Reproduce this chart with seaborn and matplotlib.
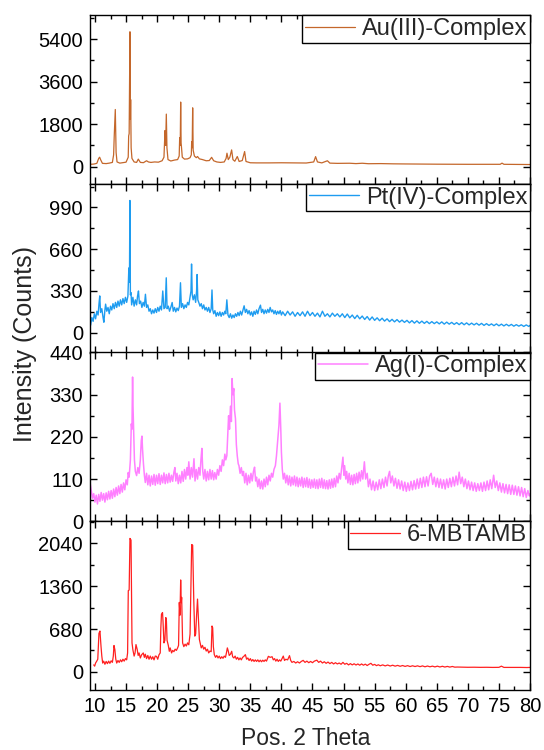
import matplotlib
matplotlib.use("Agg")
import matplotlib.pyplot as plt
import seaborn as sns
from matplotlib.ticker import MultipleLocator

# ---------------- data (2-theta, counts) ----------------
series_names = ["Au(III)-Complex", "Pt(IV)-Complex", "Ag(I)-Complex", "6-MBTAMB"]
series_colors = ["#C4672B", "#1E9CF0", "#FF80FF", "#FF2020"]

au_xrd = [
    (9.3, 100), (9.8, 110), (10.3, 140), (10.6, 350), (10.75, 400), (10.9, 300), (11.2, 140),
    (11.8, 130), (12.3, 150), (12.8, 180), (13.0, 500), (13.1, 1300), (13.27, 2420), (13.4, 600),
    (13.55, 200), (14.0, 150), (14.5, 170), (15.0, 190), (15.35, 400), (15.42, 1300), (15.5, 1400),
    (15.63, 5710), (15.7, 2000), (15.74, 2840), (15.82, 800), (15.95, 350), (16.3, 200), (16.7, 180),
    (16.97, 320), (17.3, 180), (17.8, 170), (18.3, 250), (18.6, 200), (19.0, 180), (19.6, 200),
    (20.2, 190), (20.8, 250), (21.1, 400), (21.27, 1530), (21.37, 900), (21.48, 2225), (21.58, 800),
    (21.75, 300), (22.2, 240), (22.8, 280), (23.3, 300), (23.55, 450), (23.63, 1230), (23.72, 900),
    (23.79, 2735), (23.86, 1000), (23.92, 830), (24.05, 400), (24.4, 320), (24.9, 330), (25.3, 380),
    (25.5, 500), (25.56, 1060), (25.64, 800), (25.72, 2490), (25.8, 700), (26.0, 450), (26.3, 380),
    (26.5, 430), (26.8, 330), (27.3, 300), (27.9, 250), (28.4, 260), (28.77, 395), (29.1, 250),
    (29.6, 200), (30.2, 180), (30.8, 200), (31.1, 350), (31.24, 570), (31.45, 300), (31.7, 400),
    (31.99, 710), (32.2, 300), (32.5, 230), (32.9, 430), (33.2, 220), (33.7, 260), (34.08, 640),
    (34.3, 220), (35.0, 165), (36, 160), (38, 160), (40, 165), (42, 160), (44, 155), (45.2, 200),
    (45.5, 425), (45.8, 200), (46.5, 160), (47.4, 250), (47.8, 150), (49, 140), (51, 145), (52, 130),
    (53, 145), (54, 125), (56, 130), (58, 120), (60, 115), (65, 105), (70, 100), (75.2, 100),
    (75.5, 150), (75.8, 100), (80, 90),
]

pt_xrd = [
    (9.3, 60), (9.5, 120), (9.7, 90), (9.9, 150), (10.1, 110), (10.3, 170), (10.5, 140), (10.65, 230),
    (10.77, 291), (10.9, 160), (11.1, 190), (11.3, 120), (11.43, 83), (11.6, 180), (11.71, 226),
    (11.9, 170), (12.1, 200), (12.3, 150), (12.5, 210), (12.7, 180), (12.9, 230), (13.1, 190),
    (13.3, 240), (13.5, 200), (13.7, 250), (13.9, 210), (14.1, 260), (14.3, 220), (14.5, 270),
    (14.7, 230), (14.9, 280), (15.1, 240), (15.3, 290), (15.45, 512), (15.55, 400), (15.62, 1045),
    (15.7, 300), (15.8, 317), (15.9, 220), (16.1, 280), (16.3, 210), (16.5, 260), (16.7, 220),
    (16.85, 290), (17.0, 330), (17.15, 230), (17.35, 250), (17.55, 200), (17.75, 240), (17.95, 210),
    (18.12, 304), (18.3, 200), (18.5, 220), (18.7, 170), (18.9, 190), (19.1, 150), (19.3, 180),
    (19.5, 155), (19.7, 190), (19.9, 160), (20.1, 200), (20.3, 170), (20.5, 210), (20.7, 180),
    (20.91, 330), (21.1, 190), (21.3, 200), (21.47, 434), (21.6, 190), (21.8, 210), (22.0, 170),
    (22.2, 200), (22.42, 239), (22.6, 170), (22.8, 200), (23.0, 165), (23.2, 195), (23.4, 175),
    (23.6, 210), (23.76, 395), (23.9, 200), (24.1, 230), (24.3, 190), (24.5, 220), (24.7, 200),
    (24.9, 240), (25.1, 220), (25.3, 280), (25.45, 330), (25.54, 543), (25.65, 300), (25.8, 260),
    (26.0, 300), (26.2, 240), (26.35, 330), (26.43, 460), (26.55, 260), (26.7, 240), (26.9, 210),
    (27.1, 230), (27.3, 190), (27.5, 220), (27.7, 180), (27.9, 200), (28.1, 170), (28.3, 200),
    (28.5, 160), (28.7, 190), (28.83, 338), (28.95, 180), (29.1, 150), (29.3, 175), (29.5, 130),
    (29.7, 160), (29.9, 135), (30.1, 165), (30.3, 130), (30.5, 160), (30.7, 140), (30.9, 170),
    (31.05, 150), (31.22, 260), (31.4, 140), (31.6, 120), (31.8, 150), (32.0, 115), (32.2, 140),
    (32.4, 120), (32.6, 150), (32.8, 130), (33.0, 160), (33.2, 135), (33.4, 170), (33.6, 140),
    (33.8, 175), (34.0, 213), (34.2, 160), (34.4, 185), (34.6, 150), (34.8, 175), (35.0, 140),
    (35.2, 165), (35.4, 130), (35.6, 170), (35.8, 145), (36.0, 180), (36.2, 150), (36.4, 190),
    (36.63, 218), (36.8, 160), (37.0, 185), (37.2, 150), (37.4, 180), (37.6, 155), (37.8, 185),
    (38.0, 160), (38.19, 200), (38.4, 165), (38.6, 180), (38.8, 150), (39.0, 175), (39.2, 145),
    (39.4, 170), (39.6, 150), (39.8, 175), (40.0, 140), (40.2, 165), (40.6, 135), (41.0, 170),
    (41.4, 140), (41.8, 165), (42.2, 130), (42.6, 160), (43.0, 135), (43.4, 165), (43.8, 130),
    (44.2, 170), (44.6, 135), (45.0, 160), (45.4, 130), (45.8, 155), (46.2, 125), (46.6, 170),
    (47.0, 130), (47.4, 150), (47.8, 125), (48.2, 155), (48.6, 130), (49.0, 150), (49.4, 125),
    (49.8, 150), (50.2, 120), (50.6, 148), (51.0, 118), (51.4, 140), (51.8, 112), (52.2, 138),
    (52.6, 110), (53.0, 132), (53.4, 105), (53.8, 128), (54.2, 100), (54.6, 125), (55.0, 98),
    (55.4, 118), (55.8, 95), (56.2, 115), (56.6, 92), (57.0, 110), (57.4, 88), (57.8, 106),
    (58.2, 86), (58.6, 104), (59.0, 84), (59.4, 100), (59.8, 82), (60.2, 98), (60.6, 78),
    (61.0, 96), (61.4, 76), (61.8, 94), (62.2, 75), (62.6, 92), (63.0, 74), (63.4, 90), (63.8, 72),
    (64.2, 88), (64.6, 72), (65.0, 86), (65.4, 70), (65.8, 86), (66.2, 68), (66.6, 84), (67.0, 68),
    (67.4, 82), (67.8, 66), (68.2, 80), (68.6, 64), (69.0, 80), (69.4, 63), (69.8, 78), (70.2, 62),
    (70.6, 76), (71.0, 62), (71.4, 75), (71.8, 60), (72.2, 74), (72.6, 58), (73.0, 72), (73.4, 58),
    (73.8, 70), (74.2, 56), (74.6, 70), (75.0, 55), (75.4, 68), (75.8, 54), (76.2, 67), (76.6, 54),
    (77.0, 66), (77.4, 52), (77.8, 64), (78.2, 52), (78.6, 63), (79.0, 50), (79.4, 62), (79.8, 50),
    (80.0, 58),
]

ag_xrd = [
    (9.2, 101), (9.4, 80), (9.6, 60), (9.8, 72), (10.0, 50), (10.2, 68), (10.4, 45), (10.6, 70),
    (10.8, 52), (11.0, 75), (11.2, 55), (11.4, 72), (11.6, 50), (11.8, 74), (12.0, 56), (12.2, 78),
    (12.4, 58), (12.6, 80), (12.8, 60), (13.0, 84), (13.2, 64), (13.4, 88), (13.6, 68), (13.8, 92),
    (14.0, 72), (14.2, 96), (14.4, 76), (14.6, 100), (14.8, 82), (15.0, 108), (15.2, 95), (15.35, 127),
    (15.5, 115), (15.7, 160), (15.85, 254), (15.95, 240), (16.05, 376), (16.12, 300), (16.2, 250),
    (16.35, 160), (16.5, 130), (16.7, 119), (16.9, 140), (17.1, 125), (17.3, 160), (17.45, 210),
    (17.56, 222), (17.65, 189), (17.8, 150), (17.95, 120), (18.1, 101), (18.3, 125), (18.5, 95),
    (18.7, 120), (18.9, 92), (19.1, 118), (19.3, 96), (19.5, 122), (19.7, 94), (19.9, 120),
    (20.1, 98), (20.3, 124), (20.5, 96), (20.7, 120), (20.9, 100), (21.1, 126), (21.3, 98),
    (21.5, 122), (21.7, 100), (21.9, 125), (22.1, 102), (22.3, 120), (22.5, 104), (22.7, 128),
    (22.86, 140), (23.0, 105), (23.2, 125), (23.4, 98), (23.6, 120), (23.8, 100), (24.0, 130),
    (24.2, 104), (24.4, 135), (24.6, 110), (24.8, 140), (24.95, 120), (25.1, 155), (25.3, 110),
    (25.5, 140), (25.7, 115), (25.93, 163), (26.1, 105), (26.3, 135), (26.5, 110), (26.7, 140),
    (26.9, 120), (27.05, 160), (27.2, 190), (27.35, 130), (27.5, 110), (27.7, 135), (27.9, 105),
    (28.1, 130), (28.3, 108), (28.5, 135), (28.7, 110), (28.9, 132), (29.1, 108), (29.28, 127),
    (29.5, 110), (29.7, 135), (29.9, 120), (30.1, 145), (30.3, 130), (30.5, 160), (30.7, 145),
    (30.9, 175), (31.05, 160), (31.22, 171), (31.35, 220), (31.5, 275), (31.65, 240), (31.8, 300),
    (31.95, 260), (32.06, 372), (32.2, 330), (32.34, 346), (32.45, 290), (32.61, 267), (32.75, 200),
    (32.9, 170), (33.05, 150), (33.17, 145), (33.35, 125), (33.55, 140), (33.73, 119), (33.9, 130),
    (34.1, 100), (34.3, 125), (34.5, 95), (34.7, 120), (34.9, 100), (35.1, 125), (35.3, 105),
    (35.5, 130), (35.68, 141), (35.85, 105), (36.0, 115), (36.2, 90), (36.4, 110), (36.6, 85),
    (36.8, 105), (37.0, 84), (37.2, 110), (37.4, 90), (37.6, 115), (37.8, 95), (38.0, 120),
    (38.2, 105), (38.4, 125), (38.6, 115), (38.8, 135), (39.03, 145), (39.2, 170), (39.4, 210),
    (39.6, 250), (39.76, 308), (39.9, 240), (40.0, 180), (40.14, 136), (40.3, 110), (40.5, 125),
    (40.7, 100), (40.9, 120), (41.1, 95), (41.3, 118), (41.5, 92), (41.7, 115), (41.9, 95),
    (42.1, 118), (42.3, 92), (42.5, 115), (42.7, 90), (42.9, 112), (43.1, 92), (43.3, 115),
    (43.5, 88), (43.7, 112), (43.9, 90), (44.1, 114), (44.3, 88), (44.5, 110), (44.7, 86),
    (44.9, 108), (45.1, 88), (45.3, 110), (45.5, 86), (45.7, 108), (45.9, 85), (46.1, 110),
    (46.3, 88), (46.5, 112), (46.7, 86), (46.9, 108), (47.1, 85), (47.3, 106), (47.5, 84),
    (47.7, 108), (47.9, 86), (48.1, 110), (48.3, 88), (48.5, 112), (48.7, 90), (48.9, 118),
    (49.1, 100), (49.3, 125), (49.5, 110), (49.7, 140), (49.9, 167), (50.05, 120), (50.17, 145),
    (50.35, 110), (50.5, 130), (50.7, 100), (50.9, 125), (51.1, 96), (51.3, 120), (51.5, 95),
    (51.7, 122), (51.9, 98), (52.1, 125), (52.3, 100), (52.5, 128), (52.7, 105), (52.9, 132),
    (53.1, 110), (53.35, 155), (53.55, 110), (53.8, 125), (54.0, 90), (54.25, 110), (54.5, 82),
    (54.75, 105), (55.0, 80), (55.25, 102), (55.5, 82), (55.75, 108), (56.0, 85), (56.25, 110),
    (56.5, 88), (56.75, 115), (57.0, 92), (57.2, 118), (57.4, 130), (57.6, 100), (57.85, 118),
    (58.1, 92), (58.35, 112), (58.6, 86), (58.85, 108), (59.1, 84), (59.35, 105), (59.6, 80),
    (59.85, 102), (60.1, 78), (60.35, 100), (60.6, 80), (60.85, 104), (61.1, 82), (61.35, 106),
    (61.6, 84), (61.85, 110), (62.1, 86), (62.35, 112), (62.6, 88), (62.85, 115), (63.1, 90),
    (63.35, 116), (63.6, 92), (63.85, 118), (64.1, 125), (64.35, 96), (64.6, 115), (64.85, 90),
    (65.1, 112), (65.35, 88), (65.6, 110), (65.85, 86), (66.1, 108), (66.35, 84), (66.6, 110),
    (66.85, 88), (67.1, 112), (67.35, 90), (67.6, 115), (67.85, 92), (68.1, 118), (68.35, 95),
    (68.6, 128), (68.85, 98), (69.1, 115), (69.35, 90), (69.6, 110), (69.85, 85), (70.1, 105),
    (70.35, 82), (70.6, 102), (70.85, 80), (71.1, 100), (71.35, 78), (71.6, 98), (71.85, 80),
    (72.1, 100), (72.35, 78), (72.6, 102), (72.85, 80), (73.1, 105), (73.35, 82), (73.6, 108),
    (73.85, 85), (74.15, 120), (74.4, 88), (74.65, 105), (74.9, 80), (75.15, 100), (75.4, 76),
    (75.65, 98), (75.9, 74), (76.15, 96), (76.4, 72), (76.65, 95), (76.9, 70), (77.15, 94),
    (77.4, 70), (77.65, 92), (77.9, 68), (78.15, 90), (78.4, 66), (78.65, 88), (78.9, 64),
    (79.15, 85), (79.4, 62), (79.65, 80), (79.9, 66), (80.0, 71),
]

mbtamb_xrd = [
    (9.8, 110), (9.95, 90), (10.1, 140), (10.27, 167), (10.45, 200), (10.64, 610), (10.8, 648),
    (10.97, 407), (11.1, 250), (11.24, 139), (11.4, 170), (11.6, 120), (11.8, 165), (12.0, 130),
    (12.2, 170), (12.4, 135), (12.6, 175), (12.8, 150), (12.95, 250), (13.06, 418), (13.2, 353),
    (13.35, 200), (13.5, 139), (13.7, 180), (13.9, 150), (14.1, 190), (14.3, 160), (14.5, 200),
    (14.7, 170), (14.9, 210), (15.1, 190), (15.25, 300), (15.36, 1290), (15.5, 1300), (15.63, 2120),
    (15.8, 2094), (15.9, 1000), (15.96, 460), (16.1, 350), (16.3, 250), (16.45, 300), (16.6, 433),
    (16.8, 353), (16.95, 260), (17.1, 300), (17.3, 220), (17.5, 270), (17.77, 300), (17.95, 230),
    (18.1, 280), (18.3, 210), (18.5, 260), (18.7, 200), (18.9, 250), (19.1, 200), (19.3, 240),
    (19.5, 190), (19.7, 250), (19.9, 246), (20.1, 200), (20.3, 270), (20.5, 300), (20.6, 700),
    (20.7, 915), (20.87, 942), (20.95, 800), (21.1, 460), (21.25, 500), (21.4, 862), (21.5, 800),
    (21.6, 500), (21.8, 420), (21.96, 326), (22.1, 380), (22.33, 300), (22.5, 340), (22.7, 320),
    (22.9, 360), (23.1, 340), (23.3, 380), (23.45, 420), (23.57, 1103), (23.68, 900), (23.79, 1460),
    (23.88, 1100), (23.95, 1183), (24.1, 460), (24.3, 400), (24.5, 440), (24.7, 410), (24.9, 460),
    (25.1, 430), (25.3, 600), (25.45, 1400), (25.56, 2023), (25.72, 2013), (25.82, 1500),
    (25.9, 1130), (26.06, 567), (26.2, 600), (26.35, 900), (26.5, 1156), (26.6, 942), (26.7, 700),
    (26.8, 514), (26.95, 450), (27.1, 380), (27.3, 420), (27.5, 360), (27.7, 390), (27.9, 330),
    (28.1, 360), (28.3, 300), (28.5, 330), (28.7, 320), (28.83, 728), (28.94, 700), (29.05, 400),
    (29.2, 273), (29.4, 230), (29.6, 260), (29.8, 220), (30.0, 250), (30.2, 210), (30.4, 240),
    (30.6, 215), (30.8, 250), (31.0, 230), (31.15, 300), (31.3, 380), (31.45, 330), (31.6, 260),
    (31.8, 280), (32.0, 326), (32.15, 240), (32.35, 220), (32.55, 250), (32.75, 200), (32.95, 230),
    (33.15, 190), (33.35, 220), (33.55, 190), (33.75, 230), (33.9, 240), (34.2, 273), (34.4, 200),
    (34.6, 220), (34.8, 180), (35.0, 210), (35.2, 170), (35.4, 195), (35.6, 165), (35.8, 190),
    (36.0, 165), (36.2, 190), (36.4, 160), (36.6, 185), (36.8, 160), (37.0, 185), (37.2, 165),
    (37.4, 190), (37.6, 170), (37.9, 246), (38.2, 230), (38.5, 240), (38.7, 190), (38.9, 210),
    (39.1, 170), (39.3, 200), (39.5, 165), (39.7, 190), (39.9, 170), (40.1, 210), (40.3, 250),
    (40.5, 180), (40.7, 200), (41.0, 190), (41.3, 257), (41.5, 180), (41.7, 150), (42.0, 165),
    (42.3, 140), (42.6, 160), (42.9, 140), (43.2, 165), (43.5, 182), (43.8, 150), (44.1, 170),
    (44.4, 145), (44.7, 165), (45.0, 145), (45.3, 170), (45.7, 185), (46.0, 150), (46.3, 170),
    (46.6, 140), (46.9, 160), (47.2, 135), (47.5, 155), (47.8, 130), (48.1, 150), (48.4, 125),
    (48.7, 145), (49.0, 125), (49.3, 140), (49.6, 120), (49.9, 150), (50.2, 120), (50.5, 135),
    (50.8, 110), (51.1, 130), (51.4, 110), (51.7, 128), (52.0, 108), (52.3, 125), (52.6, 105),
    (52.9, 125), (53.2, 105), (53.5, 122), (53.8, 100), (54.1, 120), (54.4, 135), (54.7, 105),
    (55.0, 118), (55.3, 98), (55.6, 112), (55.9, 96), (56.3, 110), (56.7, 94), (57.1, 108),
    (57.5, 92), (57.9, 105), (58.3, 90), (58.7, 102), (59.1, 88), (59.5, 100), (59.9, 86),
    (60.3, 98), (60.7, 84), (61.1, 96), (61.5, 84), (61.9, 95), (62.3, 82), (62.7, 94), (63.1, 80),
    (63.5, 92), (63.9, 80), (64.3, 90), (64.7, 78), (65.1, 90), (65.5, 77), (65.9, 88), (66.3, 76),
    (66.7, 86), (67.1, 75), (67.5, 85), (67.9, 74), (68.3, 76), (69.0, 74), (70.0, 72), (71.0, 73),
    (72.0, 71), (73.0, 72), (74.0, 70), (75.0, 71), (75.4, 90), (75.8, 70), (76.5, 70), (77.5, 69),
    (78.5, 70), (79.5, 68), (80.0, 70),
]

panel_data = [au_xrd, pt_xrd, ag_xrd, mbtamb_xrd]
y_limits = [(-723, 6420), (-156, 1177), (0, 440), (-289, 2393)]
y_major_ticks = [[0, 1800, 3600, 5400], [0, 330, 660, 990], [0, 110, 220, 330, 440], [0, 680, 1360, 2040]]
y_minor_steps = [900, 165, 55, 340]
x_ticks = [10, 15, 20, 25, 30, 35, 40, 45, 50, 55, 60, 65, 70, 75, 80]
line_widths = [0.9, 1.0, 1.1, 0.9]

# ---------------- styling ----------------
sns.set_theme(style="ticks")
plt.rcParams["font.family"] = ["Liberation Sans", "DejaVu Sans"]
plt.rcParams["axes.linewidth"] = 1.0
plt.rcParams["axes.edgecolor"] = "black"

fig, axes = plt.subplots(4, 1, figsize=(5.44, 7.5), dpi=100, sharex=True)
fig.subplots_adjust(left=90 / 544, right=530 / 544, top=1 - 15 / 750, bottom=1 - 690 / 750, hspace=0)

for i, ax in enumerate(axes):
    xs, ys = zip(*panel_data[i])
    sns.lineplot(x=list(xs), y=list(ys), ax=ax, color=series_colors[i], linewidth=line_widths[i],
                 label=series_names[i], estimator=None, sort=False)
    ax.set_xlim(9.2, 80)
    ax.set_ylim(*y_limits[i])
    ax.set_yticks(y_major_ticks[i])
    ax.yaxis.set_minor_locator(MultipleLocator(y_minor_steps[i]))
    ax.set_xticks(x_ticks)
    ax.xaxis.set_minor_locator(MultipleLocator(2.5))
    ax.tick_params(which="both", direction="in", top=True, right=True, width=1.0,
                   colors="black", labelsize=14.5)
    ax.tick_params(which="major", length=5, pad=5)
    ax.tick_params(which="minor", length=3)
    ax.set_xlabel("")
    ax.set_ylabel("")
    for sp in ax.spines.values():
        sp.set_color("black")
        sp.set_linewidth(1.0)
    leg = ax.legend(loc="upper right", borderaxespad=0, fancybox=False, edgecolor="black",
                    framealpha=1, fontsize=17, handlelength=2.1, handletextpad=0.3,
                    borderpad=0.12)
    leg.get_frame().set_linewidth(1.0)

fig.text(25 / 544, 1 - 344 / 750, "Intensity (Counts)", rotation=90, ha="center", va="center",
         fontsize=18)
fig.text(306 / 544, 0.0, "Pos. 2 Theta", ha="center", va="bottom", fontsize=16.5)

fig.savefig("out.png", dpi=100)
